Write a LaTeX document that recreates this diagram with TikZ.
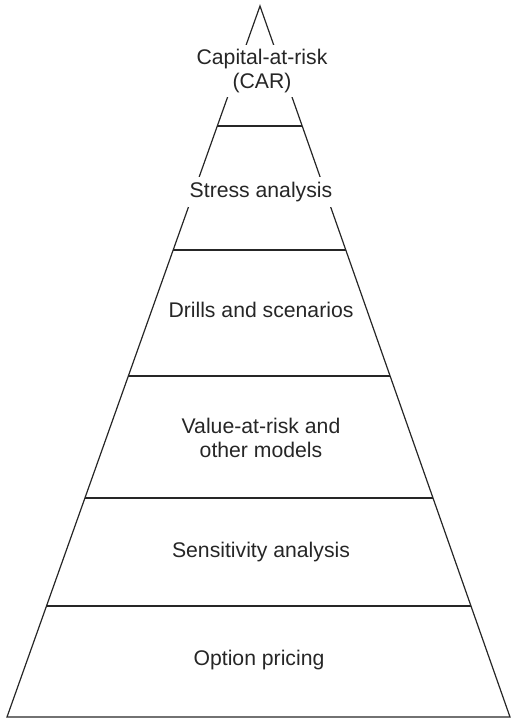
\documentclass[tikz,border=0pt]{standalone}
\usepackage{fontspec}
\setmainfont{Liberation Sans}
\usetikzlibrary{positioning,calc}

\begin{document}
\begin{tikzpicture}[x=1pt, y=-1pt,
    level/.style={font=\fontsize{21.2}{24.5}\selectfont, align=center, text=black!85},
    gap/.style={level, fill=white, inner sep=2pt}]
    \useasboundingbox (0,0) rectangle (511,721);

    % Outline of the pyramid
    \coordinate (apex) at (260,6);
    \coordinate (bl) at (7,717);
    \coordinate (br) at (510,717);
    \draw [line width=1.2pt, black!85, line join=miter] (bl) -- (apex) -- (br) -- cycle;

    % Tiers
    \foreach \t in {0.1688, 0.3432, 0.5204, 0.6920, 0.8439} {
        \draw [line width=1.2pt, black!85] ($(apex)!\t!(bl)$) -- ($(apex)!\t!(br)$);
    }

    % Labels
    \node [gap, inner ysep=4pt] (car) at (262,71) {Capital-at-risk\\(CAR)};
    \node [gap, inner ysep=5pt] (stress) at (261,192) {Stress analysis};
    \node [level] (drills) at (261,310) {Drills and scenarios};
    \node [level] (var) at (261,438) {Value-at-risk and\\other models};
    \node [level] (sens) at (261,552) {Sensitivity analysis};
    \node [level] (option) at (259,660) {Option pricing};
\end{tikzpicture}
\end{document}
